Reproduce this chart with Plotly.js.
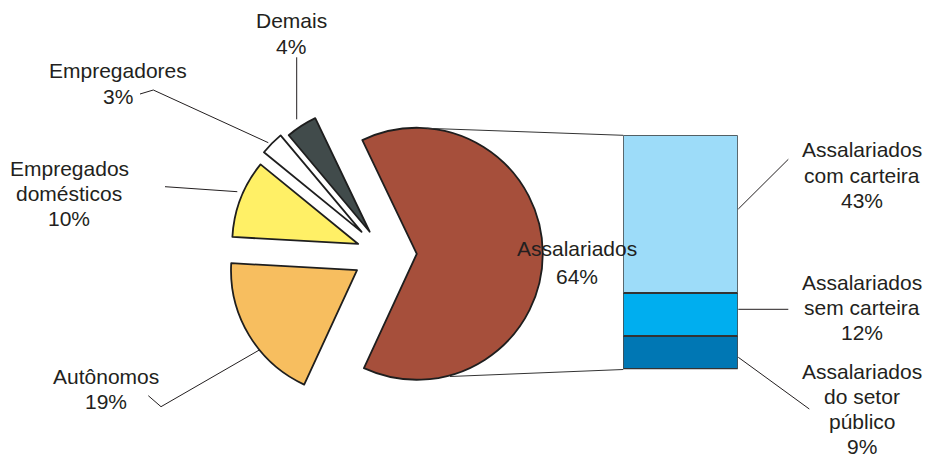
<!DOCTYPE html>
<html>
<head>
<meta charset="utf-8">
<script src="https://cdn.plot.ly/plotly-3.0.1.min.js"></script>
<style>html,body{margin:0;padding:0;background:#fff;}#chart{width:927px;height:457px;}</style>
</head>
<body>
<div id="chart"></div>
<script>
// ---- data ----
var pieLabels = ["Assalariados", "Autônomos", "Empregados domésticos", "Empregadores", "Demais"];
var pieValues = [64, 19, 10, 3, 4];
var pieLabelLines = [["Assalariados"], ["Autônomos"], ["Empregados", "domésticos"], ["Empregadores"], ["Demais"]];

var barLabels = ["Assalariados do setor público", "Assalariados sem carteira", "Assalariados com carteira"];
var barValues = [9, 12, 43];
var barLabelLines = [["Assalariados", "do setor", "público"], ["Assalariados", "sem carteira"], ["Assalariados", "com carteira"]];

// ---- styles / layout helpers ----
var pieColors = ["#A64F3B", "#F7BE5F", "#FFF066", "#FFFFFF", "#414B4B"];
var barColors = ["#0077B4", "#00AEEF", "#9DDCF9"];
var W = 927, H = 457;
function px(x){ return x / W; }
function py(y){ return 1 - y / H; }
var FONT = {family: "Liberation Sans, Arial, sans-serif", size: 21, color: "#231F20"};

var data = [{
  type: "pie",
  labels: pieLabels,
  values: pieValues,
  sort: false,
  direction: "clockwise",
  rotation: -25.6,
  pull: [0.26, 0.25, 0.22, 0.25, 0.21],
  marker: {colors: pieColors, line: {color: "#1E1E1E", width: 1.8}},
  textinfo: "none",
  hoverinfo: "label+percent",
  showlegend: false,
  domain: {x: [0.24297, 0.58556], y: [0.09681, 0.79160]}
}];

for (var i = 0; i < barValues.length; i++) {
  data.push({
    type: "bar",
    x: [0],
    y: [barValues[i]],
    name: barLabels[i],
    width: 1,
    marker: {color: barColors[i], line: {color: "#333333", width: 2}},
    hoverinfo: "name+y",
    showlegend: false,
    xaxis: "x",
    yaxis: "y"
  });
}

// label positions: x centre and the y centre of each line (pixels)
var pieLabelX = [577, 106.3, 69, 117.5, 291];
var pieLabelY = [[248.3, 276], [376, 401.7], [168, 193, 218], [70, 96.7], [20.7, 46.7]];
var barLabelX = [862, 862, 862];
var barLabelY = [[371.7, 396.7, 421.7, 446.7], [282.7, 307.7, 332.7], [149.3, 175, 200]];

var annotations = [];
function addLines(lines, xs, ys) {
  for (var m = 0; m < lines.length; m++) {
    annotations.push({xref: "paper", yref: "paper", x: px(xs), y: py(ys[m]),
      text: lines[m], showarrow: false, xanchor: "center", yanchor: "middle", font: FONT});
  }
}
for (var j = 0; j < pieValues.length; j++) {
  addLines(pieLabelLines[j].concat([pieValues[j] + "%"]), pieLabelX[j], pieLabelY[j]);
}
for (var k = 0; k < barValues.length; k++) {
  addLines(barLabelLines[k].concat([barValues[k] + "%"]), barLabelX[k], barLabelY[k]);
}

function seg(x0, y0, x1, y1, col) {
  return {type: "line", xref: "paper", yref: "paper", x0: px(x0), y0: py(y0), x1: px(x1), y1: py(y1),
    line: {color: col || "#231F20", width: 1}};
}
var shapes = [
  // connectors pie -> bar
  seg(426.7, 128.3, 623.3, 135.3, "#333333"),
  seg(450, 376.5, 623.3, 369.5, "#333333"),
  // leader lines
  seg(296.7, 57.3, 296.7, 119.3),
  seg(140, 94, 153.3, 90), seg(153.3, 90, 268.3, 142.7),
  seg(165, 186.7, 237.3, 191.7),
  seg(148.3, 395.7, 161, 406.7), seg(161, 406.7, 259.3, 350),
  seg(738.3, 209, 788.3, 159.3),
  seg(738.3, 309.3, 788.3, 309.3),
  seg(738.3, 357.3, 809.3, 409)
];

var layout = {
  width: W, height: H,
  margin: {l: 0, r: 0, t: 0, b: 0},
  paper_bgcolor: "#FFFFFF",
  plot_bgcolor: "rgba(0,0,0,0)",
  barmode: "stack",
  showlegend: false,
  xaxis: {domain: [px(623.3), px(737.7)], range: [-0.5, 0.5], visible: false, fixedrange: true},
  yaxis: {domain: [py(369.3), py(135.3)], range: [0, 64], visible: false, fixedrange: true},
  annotations: annotations,
  shapes: shapes
};

Plotly.newPlot("chart", data, layout, {displayModeBar: false, staticPlot: true});
</script>
</body>
</html>
